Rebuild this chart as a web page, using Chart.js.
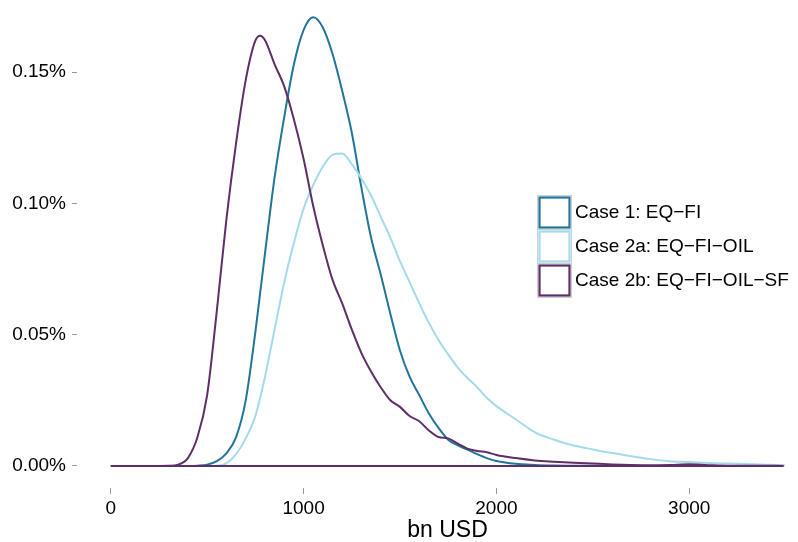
<!DOCTYPE html>
<html>
<head>
<meta charset="utf-8">
<script src="https://cdn.jsdelivr.net/npm/chart.js@4/dist/chart.umd.min.js"></script>
<style>
html,body{margin:0;padding:0;background:#fff;overflow:hidden}
#wrap{position:relative;width:818px;height:542px}
</style>
</head>
<body>
<div id="wrap"><canvas id="densityChart"></canvas></div>
<script>
// x grid (bn USD) and density per series, in % units
const X_BN = [0,100,200,300,350,400,450,500,550,600,650,700,750,775,800,850,900,950,1000,1050,1100,1150,1200,1250,1300,1350,1400,1450,1500,1550,1600,1650,1700,1750,1800,1850,1900,1950,2000,2100,2200,2300,2400,2500,2600,2700,2800,2900,3000,3100,3200,3300,3400,3490];
const CASE_1 = [0,0,0,0,0,0,0.0001,0.0005,0.0018,0.0048,0.011,0.025,0.051,0.066,0.081,0.110,0.133,0.153,0.166,0.1709,0.167,0.157,0.143,0.127,0.106,0.087,0.073,0.058,0.044,0.034,0.027,0.020,0.0145,0.010,0.0078,0.0062,0.0045,0.003,0.0019,0.0008,0.0004,0.0002,0.0001,0.0001,0,0,0,0,0,0,0,0,0,0];
const CASE_2A = [0,0,0,0,0,0,0,0,0.0001,0.001,0.0045,0.0105,0.019,0.026,0.034,0.052,0.070,0.085,0.098,0.107,0.114,0.1185,0.119,0.115,0.1095,0.103,0.095,0.087,0.078,0.070,0.062,0.0545,0.048,0.0425,0.0375,0.0335,0.030,0.026,0.0228,0.0178,0.0128,0.010,0.0078,0.0063,0.0049,0.0037,0.0026,0.0018,0.0015,0.0011,0.0009,0.0007,0.0005,0.0004];
const CASE_2B = [0,0,0,0.0001,0.0005,0.003,0.011,0.027,0.059,0.094,0.123,0.147,0.162,0.1639,0.1622,0.153,0.1445,0.132,0.117,0.099,0.084,0.071,0.062,0.052,0.043,0.036,0.030,0.025,0.0225,0.019,0.017,0.0135,0.011,0.0105,0.0085,0.0066,0.0057,0.0052,0.0042,0.003,0.0021,0.0016,0.0012,0.0009,0.0006,0.0004,0.0003,0.0004,0.0006,0.0003,0.0001,0.0001,0.0001,0];
const SERIES_NAMES = ['Case 1: EQ\u2212FI','Case 2a: EQ\u2212FI\u2212OIL','Case 2b: EQ\u2212FI\u2212OIL\u2212SF'];
const SERIES_COLORS = ['#21759b','#a3dbec','#5d2e67'];
const X_TICKS = [0,1000,2000,3000];
const Y_TICKS = [0,0.05,0.10,0.15];

Chart.defaults.font.family = "'Liberation Sans', Helvetica, Arial, sans-serif";
Chart.defaults.color = '#000';

// density outline, closed along the baseline like a filled polygon
function outline(vals){
  const pts = X_BN.map((x,i)=>({x:x,y:vals[i]}));
  pts.push({x:X_BN[X_BN.length-1],y:0},{x:X_BN[0],y:0});
  return pts;
}

const keyLegend = {
  id:'keyLegend',
  afterDraw(chart){
    const ctx = chart.ctx, o = chart.options.plugins.keyLegend;
    chart.data.datasets.forEach((ds,i)=>{
      const y = o.top + i*o.size;
      ctx.save();
      ctx.strokeStyle = '#cfcfcf'; ctx.lineWidth = 1;
      ctx.strokeRect(o.left+0.5, y+0.5, o.size, o.size);
      ctx.strokeStyle = ds.borderColor; ctx.lineWidth = 2.2;
      ctx.strokeRect(o.left+2.5, y+2.5, o.size-4, o.size-4);
      ctx.fillStyle = '#000';
      ctx.font = "19px 'Liberation Sans', Helvetica, Arial, sans-serif";
      ctx.textBaseline = 'middle';
      ctx.fillText(ds.label, o.left+o.size+4, y+o.size/2+1);
      ctx.restore();
    });
  }
};

new Chart(document.getElementById('densityChart'),{type:'line',
  data:{datasets:[CASE_1,CASE_2A,CASE_2B].map((v,i)=>({
    label:SERIES_NAMES[i],data:outline(v),borderColor:SERIES_COLORS[i],borderWidth:2,
    pointRadius:0,fill:false,cubicInterpolationMode:'monotone',order:3-i}))},
  options:{responsive:true,maintainAspectRatio:false,animation:false,
    layout:{padding:0},
    plugins:{legend:{display:false},tooltip:{enabled:false},
      keyLegend:{left:537,top:195,size:34}},
    scales:{
      x:{type:'linear',min:-175,max:3668,
        afterBuildTicks:s=>{s.ticks=X_TICKS.map(v=>({value:v}));},
        afterFit:s=>{s.height=54;s.paddingLeft=0;s.paddingRight=0;},
        grid:{drawOnChartArea:false,drawTicks:true,tickLength:6,color:'#9a9a9a'},
        border:{display:false},
        ticks:{font:{size:19},padding:3,maxRotation:0,callback:v=>String(v)},
        title:{display:true,text:'bn USD',font:{size:23,lineHeight:1},padding:0}},
      y:{min:-0.0084,max:0.1775,
        afterBuildTicks:s=>{s.ticks=Y_TICKS.map(v=>({value:v}));},
        afterFit:s=>{s.width=77;s.paddingTop=0;s.paddingBottom=0;},
        grid:{drawOnChartArea:false,drawTicks:true,tickLength:5,color:'#9a9a9a'},
        border:{display:false},
        ticks:{font:{size:19},padding:6,callback:v=>v.toFixed(2)+'%'}}
    }},
  plugins:[keyLegend]
});
</script>
</body>
</html>
